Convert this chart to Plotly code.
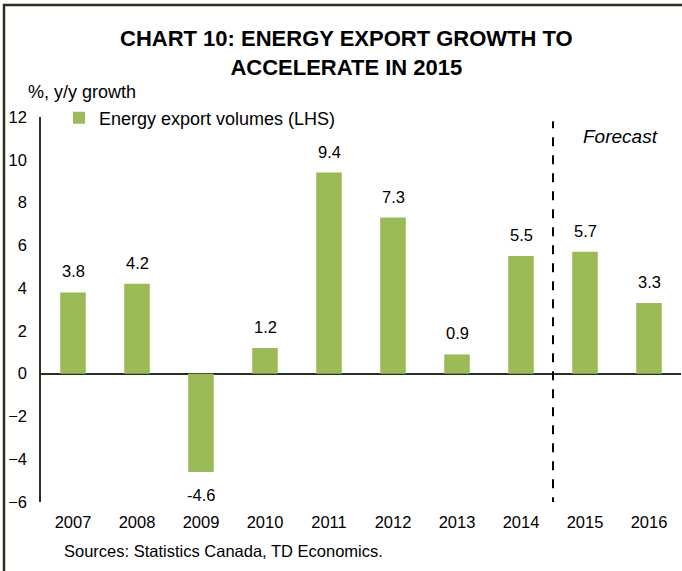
import plotly.graph_objects as go

years = ["2007", "2008", "2009", "2010", "2011", "2012", "2013", "2014", "2015", "2016"]
growth = [3.8, 4.2, -4.6, 1.2, 9.4, 7.3, 0.9, 5.5, 5.7, 3.3]
y_ticks = [-6, -4, -2, 0, 2, 4, 6, 8, 10, 12]

GREEN = "#9BBB59"
DARK = "#2b3120"
FONT = "Liberation Sans, Arial, sans-serif"

W, H = 682, 571
L, R, T, B = 41, 1, 117, 69
pw, ph = W - L - R, H - T - B


def px_x(x):
    return (x - L) / pw


def px_y(y):
    return (H - B - y) / ph


def paper_text(x, y, text, size=16, xanchor="center"):
    fig.add_annotation(x=px_x(x), y=px_y(y), xref="paper", yref="paper",
                       xanchor=xanchor, yanchor="middle", align="center",
                       text=text, showarrow=False,
                       font=dict(size=size, color="black", family=FONT))


fig = go.Figure()
fig.add_trace(go.Bar(
    x=years, y=growth,
    name="Energy export volumes (LHS)",
    marker=dict(color=GREEN, line=dict(width=0)),
    showlegend=True,
))

# value labels above / below bars (x given as category index)
for i, v in enumerate(growth):
    fig.add_annotation(
        x=i, y=v, text=f"{v:.1f}", showarrow=False,
        xanchor="center", yanchor="middle", yshift=21 if v >= 0 else -23,
        font=dict(size=16.5, color="black", family=FONT),
    )

# forecast divider between 2014 and 2015
fig.add_shape(type="line", xref="x", yref="y",
              x0=7.5, x1=7.5, y0=-6.2, y1=11.8,
              line=dict(color="black", width=2, dash="dash"))

paper_text(620, 136, "<i>Forecast</i>", size=19)
paper_text(346, 53, "<b>CHART 10: ENERGY EXPORT GROWTH TO<br>ACCELERATE IN 2015</b>", size=22)
paper_text(26, 92, "%, y/y growth", size=18, xanchor="left")
paper_text(62, 551, "Sources: Statistics Canada, TD Economics.", size=16.5, xanchor="left")

# outer frame (left and top edges visible)
fig.add_shape(type="rect", xref="paper", yref="paper",
              x0=px_x(4), x1=px_x(W + 20), y0=px_y(H + 20), y1=px_y(5),
              line=dict(color=DARK, width=2.5), layer="below")

fig.update_layout(
    width=W, height=H,
    margin=dict(l=L, r=R, t=T, b=B, autoexpand=False),
    paper_bgcolor="white", plot_bgcolor="white",
    bargap=0.6,
    font=dict(family=FONT, size=16, color="black"),
    legend=dict(x=px_x(59), y=px_y(118), xanchor="left", yanchor="middle",
                bgcolor="rgba(0,0,0,0)", font=dict(size=18),
                itemsizing="constant"),
)
fig.update_xaxes(
    type="category", range=[-0.5, len(years) - 0.5],
    showgrid=False, showline=False, ticks="",
    ticklabelstandoff=8,
    tickfont=dict(size=16.5),
)
fig.update_yaxes(
    range=[-6, 12], tickvals=y_ticks, showgrid=False,
    showline=True, linecolor=DARK, linewidth=1.5,
    zeroline=True, zerolinecolor=DARK, zerolinewidth=1.5,
    ticks="", ticklabelstandoff=9,
    tickfont=dict(size=16.5),
)

fig.write_html("out.html", config={"displayModeBar": False},
               post_script="document.body.style.margin='0';")
